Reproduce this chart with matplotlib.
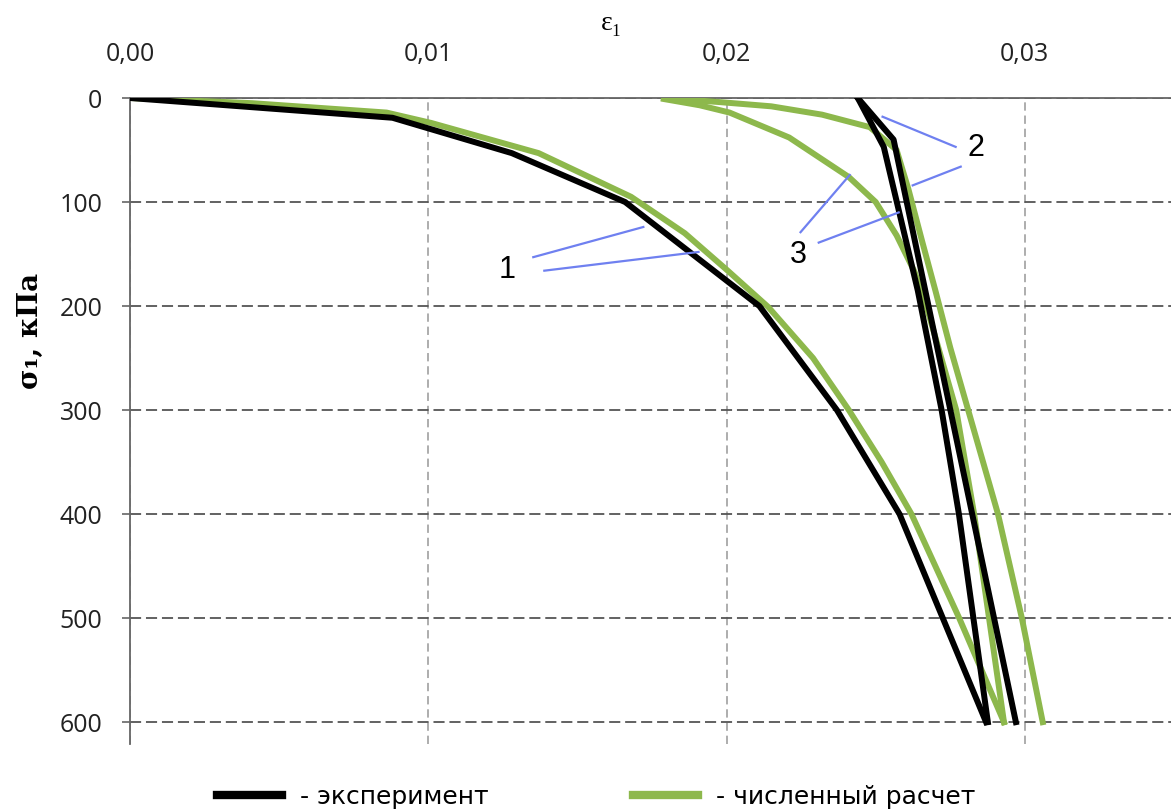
import numpy as np
import matplotlib.pyplot as plt
from matplotlib.lines import Line2D
from matplotlib.ticker import FuncFormatter

plt.rcParams['lines.scale_dashes'] = False

# experiment (black): loading, unloading, reloading
eps_exp_load = [0.0, 0.0088, 0.0128, 0.0166, 0.0211, 0.0237, 0.0258, 0.0287]
sig_exp_load = [0, 19, 53, 100, 200, 300, 400, 600]
eps_exp_unload = [0.02876, 0.02779, 0.02721, 0.02641, 0.02527, 0.0244]
sig_exp_unload = [600, 400, 300, 185, 47, 0]
eps_exp_reload = [0.0244, 0.0256, 0.0297]
sig_exp_reload = [0, 40, 600]

# numerical calculation (green)
eps_num_load = [0.0, 0.0041, 0.0086, 0.0101, 0.0137, 0.0168, 0.0186, 0.0200,
                0.0214, 0.0229, 0.0241, 0.0252, 0.0262, 0.0278, 0.0293]
sig_num_load = [0, 5, 14, 24, 53, 95, 130, 165, 201, 250, 300, 350, 400, 500, 600]
eps_num_unload = [0.0293, 0.0288, 0.0283, 0.0277, 0.0271, 0.0267, 0.0263,
                  0.0257, 0.0250, 0.0241, 0.0221, 0.0201, 0.0191, 0.0179]
sig_num_unload = [600, 500, 400, 300, 240, 200, 167, 132, 100, 76, 38, 14, 7, 1]
eps_num_reload = [0.0179, 0.0198, 0.0215, 0.0232, 0.0248, 0.0257, 0.0261,
                  0.02655, 0.0270, 0.0275, 0.0281, 0.0291, 0.0299, 0.0306]
sig_num_reload = [0, 4, 8, 16, 28, 50, 88, 137, 185, 240, 300, 400, 500, 600]

x_ticks = [0.0, 0.01, 0.02, 0.03]
y_ticks = [0, 100, 200, 300, 400, 500, 600]

# curve labels: (text, text position, [(line start, line end), ...])
curve_labels = [
    ('1', (0.01265, 165), [((0.01352, 153), (0.01721, 124)),
                           ((0.01389, 166), (0.01906, 148))]),
    ('2', (0.02836, 48), [((0.02768, 47), (0.02523, 18)),
                          ((0.02785, 66), (0.02624, 84))]),
    ('3', (0.02242, 151), [((0.02248, 129), (0.02413, 74)),
                           ((0.02309, 139), (0.02577, 110))]),
]

black = '#000000'
green = '#8db84c'
blue = '#6f80f0'

fig = plt.figure(figsize=(11.71, 8.11), dpi=100)
ax = fig.add_axes([130 / 1171, 1 - 744 / 811, 1041 / 1171, 646 / 811])

lw = 4.3
for e, s in [(eps_num_load, sig_num_load), (eps_num_unload, sig_num_unload),
             (eps_num_reload, sig_num_reload)]:
    ax.plot(e, s, color=green, lw=lw, solid_joinstyle='round', zorder=3)
for e, s in [(eps_exp_load, sig_exp_load), (eps_exp_unload, sig_exp_unload),
             (eps_exp_reload, sig_exp_reload)]:
    ax.plot(e, s, color=black, lw=lw, zorder=4)

for txt, pos, segs in curve_labels:
    ax.text(pos[0], pos[1], txt, fontsize=22, family='Liberation Sans',
            ha='center', va='center', zorder=6)
    for (x0, y0), (x1, y1) in segs:
        ax.plot([x0, x1], [y0, y1], color=blue, lw=1.6, zorder=5)

ax.set_xlim(0, 0.0349)
ax.set_ylim(621, 0)

ax.xaxis.tick_top()
ax.set_xticks(x_ticks)
ax.xaxis.set_major_formatter(FuncFormatter(lambda v, p: f'{v:.2f}'.replace('.', ',')))
ax.set_yticks(y_ticks)
ax.tick_params(axis='x', length=0, pad=22, labelsize=18, labelcolor='#222222')
ax.tick_params(axis='y', direction='out', length=6, width=1.2, color='#666666',
               pad=14, labelsize=18, labelcolor='#222222')
for lab in ax.get_xticklabels() + ax.get_yticklabels():
    lab.set_family('Open Sans')

ax.yaxis.grid(True, color='#555555', lw=1.3, dashes=(8, 3.5))
ax.xaxis.grid(True, color='#a0a0a0', lw=1.2, dashes=(6, 3.5))
ax.set_axisbelow(True)

for s in ['right', 'bottom']:
    ax.spines[s].set_visible(False)
for s in ['top', 'left']:
    ax.spines[s].set_color('#666666')
    ax.spines[s].set_linewidth(1.3)

fig.text(612 / 1171, 1 - 24 / 811, 'ε₁', fontsize=20,
         family=['Liberation Serif', 'DejaVu Serif'], ha='center', va='center')
fig.text(30 / 1171, 1 - 331 / 811, 'σ₁, кПа', fontsize=20, fontweight='bold',
         family='DejaVu Serif', rotation=90, ha='center', va='center')

handles = [Line2D([], [], color=black, lw=6), Line2D([], [], color=green, lw=6)]
fig.legend(handles, ['- эксперимент', '- численный расчет'], loc='center',
           bbox_to_anchor=(596 / 1171, 1 - 797 / 811), ncol=2, frameon=False,
           prop={'family': 'DejaVu Sans', 'size': 18},
           handlelength=2.6, handletextpad=0.7, columnspacing=5.8)

fig.savefig('out.png', dpi=100)
